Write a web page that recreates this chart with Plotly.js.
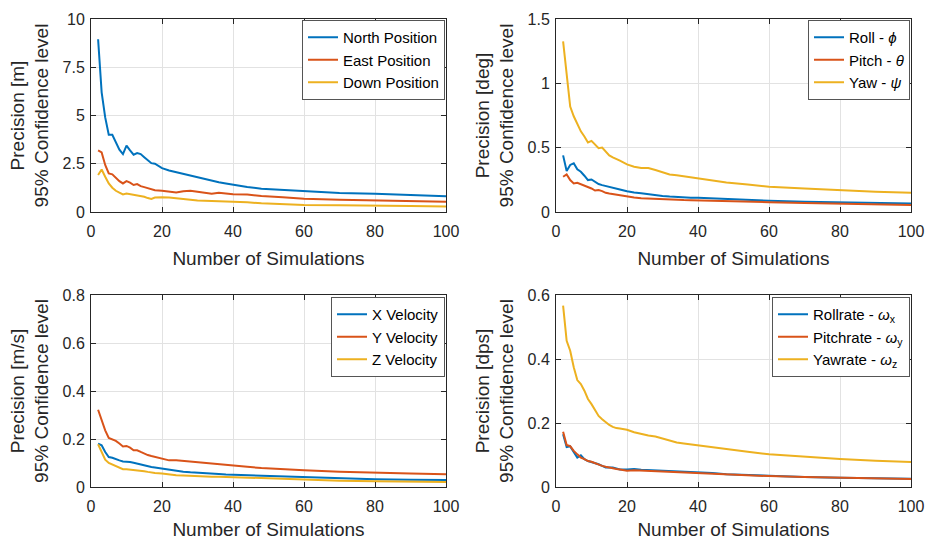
<!DOCTYPE html>
<html>
<head>
<meta charset="utf-8">
<script src="https://cdn.plot.ly/plotly-3.0.1.min.js"></script>
<style>html,body{margin:0;padding:0;background:#fff;}#chart{width:926px;height:540px;}</style>
</head>
<body>
<div id="chart"></div>
<script>
const nSim = [2,3,4,5,6,7,8,9,10,11,12,13,14,15,16,17,18,20,22,24,26,28,30,32,34,36,38,40,44,48,54,60,70,80,90,100];

const northPos = [8.95,6.2,4.9,4.0,4.0,3.58,3.23,3.0,3.44,3.19,2.97,3.05,3.0,2.84,2.67,2.53,2.5,2.27,2.15,2.06,1.97,1.87,1.78,1.69,1.6,1.54,1.48,1.41,1.29,1.21,1.14,1.07,0.99,0.94,0.87,0.81];
const eastPos  = [3.19,3.09,2.44,2.0,1.95,1.75,1.6,1.48,1.6,1.52,1.4,1.45,1.34,1.29,1.24,1.19,1.13,1.1,1.06,1.01,1.08,1.1,1.05,0.98,0.94,1.0,0.96,0.92,0.91,0.83,0.76,0.69,0.63,0.6,0.57,0.53];
const downPos  = [1.92,2.2,1.83,1.48,1.26,1.1,1.0,0.91,0.96,0.93,0.89,0.86,0.83,0.79,0.72,0.68,0.75,0.77,0.75,0.7,0.66,0.63,0.59,0.58,0.56,0.56,0.56,0.52,0.51,0.45,0.4,0.36,0.35,0.34,0.31,0.28];

const rollAtt  = [0.44,0.318,0.366,0.379,0.332,0.313,0.282,0.248,0.253,0.235,0.217,0.209,0.201,0.193,0.185,0.18,0.175,0.162,0.151,0.146,0.138,0.133,0.125,0.12,0.115,0.112,0.11,0.11,0.105,0.1,0.094,0.087,0.08,0.074,0.07,0.066];
const pitchAtt = [0.274,0.292,0.248,0.222,0.227,0.217,0.204,0.196,0.183,0.167,0.17,0.162,0.149,0.143,0.138,0.134,0.131,0.123,0.112,0.107,0.104,0.1,0.097,0.095,0.094,0.093,0.092,0.091,0.088,0.082,0.079,0.076,0.069,0.063,0.059,0.055];
const yawAtt   = [1.326,1.06,0.82,0.744,0.69,0.627,0.587,0.54,0.553,0.522,0.496,0.501,0.47,0.44,0.425,0.415,0.4,0.37,0.352,0.342,0.342,0.326,0.308,0.292,0.285,0.277,0.266,0.261,0.243,0.23,0.213,0.197,0.182,0.168,0.158,0.15];

const xVel = [0.181,0.174,0.146,0.125,0.122,0.118,0.111,0.106,0.106,0.104,0.101,0.097,0.092,0.088,0.085,0.083,0.081,0.076,0.071,0.067,0.064,0.061,0.06,0.058,0.056,0.054,0.052,0.051,0.049,0.046,0.042,0.039,0.035,0.032,0.03,0.029];
const yVel = [0.322,0.278,0.236,0.204,0.199,0.192,0.181,0.169,0.171,0.164,0.153,0.153,0.146,0.139,0.133,0.129,0.126,0.117,0.111,0.111,0.108,0.106,0.103,0.1,0.097,0.095,0.092,0.09,0.084,0.079,0.074,0.07,0.064,0.059,0.056,0.053];
const zVel = [0.178,0.146,0.114,0.1,0.093,0.086,0.081,0.074,0.074,0.073,0.072,0.071,0.069,0.066,0.063,0.06,0.058,0.056,0.052,0.049,0.048,0.046,0.045,0.044,0.043,0.043,0.042,0.04,0.039,0.036,0.031,0.028,0.026,0.024,0.022,0.021];

const rollRate  = [0.165,0.125,0.127,0.111,0.092,0.099,0.087,0.081,0.078,0.075,0.071,0.066,0.061,0.061,0.061,0.058,0.055,0.055,0.056,0.054,0.053,0.052,0.051,0.05,0.048,0.047,0.047,0.047,0.044,0.04,0.037,0.034,0.031,0.029,0.027,0.026];
const pitchRate = [0.173,0.131,0.128,0.113,0.102,0.092,0.087,0.081,0.079,0.074,0.069,0.066,0.063,0.06,0.057,0.056,0.055,0.051,0.052,0.051,0.05,0.049,0.048,0.047,0.046,0.045,0.045,0.044,0.042,0.04,0.037,0.034,0.031,0.029,0.027,0.025];
const yawRate   = [0.567,0.457,0.426,0.374,0.334,0.322,0.301,0.275,0.259,0.238,0.222,0.212,0.202,0.194,0.188,0.184,0.183,0.179,0.171,0.165,0.161,0.158,0.151,0.144,0.139,0.136,0.133,0.13,0.123,0.117,0.11,0.102,0.094,0.0875,0.082,0.078];

const names1 = ['North Position','East Position','Down Position'];
const names2 = ['Roll - <i>ϕ</i>','Pitch - <i>θ</i>','Yaw - <i>ψ</i>'];
const names3 = ['X Velocity','Y Velocity','Z Velocity'];
const names4 = ['Rollrate - <i>ω</i><sub>x</sub>','Pitchrate - <i>ω</i><sub>y</sub>','Yawrate - <i>ω</i><sub>z</sub>'];

const yTitles = ['Precision [m]<br>95% Confidence level','Precision [deg]<br>95% Confidence level','Precision [m/s]<br>95% Confidence level','Precision [dps]<br>95% Confidence level'];
const xTitle = 'Number of Simulations';

const colors = ['#0072BD','#D95319','#EDB120'];
const FONT = 'Liberation Sans, Arial, Helvetica, sans-serif';
const TXT = '#262626';

const groups = [
  {series:[northPos,eastPos,downPos], names:names1, xa:'x', ya:'y', leg:'legend'},
  {series:[rollAtt,pitchAtt,yawAtt], names:names2, xa:'x2', ya:'y2', leg:'legend2'},
  {series:[xVel,yVel,zVel], names:names3, xa:'x3', ya:'y3', leg:'legend3'},
  {series:[rollRate,pitchRate,yawRate], names:names4, xa:'x4', ya:'y4', leg:'legend4'}
];

const traces = [];
groups.forEach(g => {
  g.series.forEach((s, i) => {
    traces.push({x:nSim, y:s, name:g.names[i], type:'scatter', mode:'lines',
      xaxis:g.xa, yaxis:g.ya, legend:g.leg,
      line:{color:colors[i], width:2}});
  });
});

const W = 926, H = 540;
const colX = [[91/W, 446/W],[556/W, 911/W]];
const rowY = [[1-212/H, 1-19/H],[1-487/H, 1-295/H]];

function xax(dom, anchor){
  return {domain:dom, anchor:anchor, range:[0,100], tickvals:[0,20,40,60,80,100],
    showgrid:true, gridcolor:'#e2e2e2', zeroline:false, showline:true, linecolor:TXT, linewidth:1,
    mirror:'ticks', ticks:'inside', ticklen:5, tickcolor:TXT, ticklabelstandoff:5,
    tickfont:{family:FONT, size:16, color:TXT},
    title:{text:xTitle, font:{family:FONT, size:19, color:TXT}, standoff:12}};
}
function yax(dom, anchor, range, dtick, title){
  return {domain:dom, anchor:anchor, range:range, dtick:dtick, tick0:0,
    showgrid:true, gridcolor:'#e2e2e2', zeroline:false, showline:true, linecolor:TXT, linewidth:1,
    mirror:'ticks', ticks:'inside', ticklen:5, tickcolor:TXT, ticklabelstandoff:2,
    tickfont:{family:FONT, size:16, color:TXT},
    title:{text:title, font:{family:FONT, size:19, color:TXT}, standoff:8}};
}
function leg(x, y){
  return {x:x, y:y, xanchor:'right', yanchor:'top', bgcolor:'#ffffff',
    bordercolor:'#555555', borderwidth:1, font:{family:FONT, size:15, color:'#000'},
    tracegroupgap:0, itemwidth:30};
}

const layout = {
  width:W, height:H, margin:{l:0,r:0,t:0,b:0},
  paper_bgcolor:'#ffffff', plot_bgcolor:'#ffffff', showlegend:true,
  font:{family:FONT, color:TXT},
  xaxis: xax(colX[0],'y'),
  yaxis: yax(rowY[0],'x',[0,10],2.5,yTitles[0]),
  xaxis2: xax(colX[1],'y2'),
  yaxis2: yax(rowY[0],'x2',[0,1.5],0.5,yTitles[1]),
  xaxis3: xax(colX[0],'y3'),
  yaxis3: yax(rowY[1],'x3',[0,0.8],0.2,yTitles[2]),
  xaxis4: xax(colX[1],'y4'),
  yaxis4: yax(rowY[1],'x4',[0,0.6],0.2,yTitles[3]),
  legend: leg(445/W, 1-20/H),
  legend2: leg(910/W, 1-20/H),
  legend3: leg(445/W, 1-297/H),
  legend4: leg(910/W, 1-297/H)
};

Plotly.newPlot('chart', traces, layout, {staticPlot:true, displayModeBar:false});
</script>
</body>
</html>
